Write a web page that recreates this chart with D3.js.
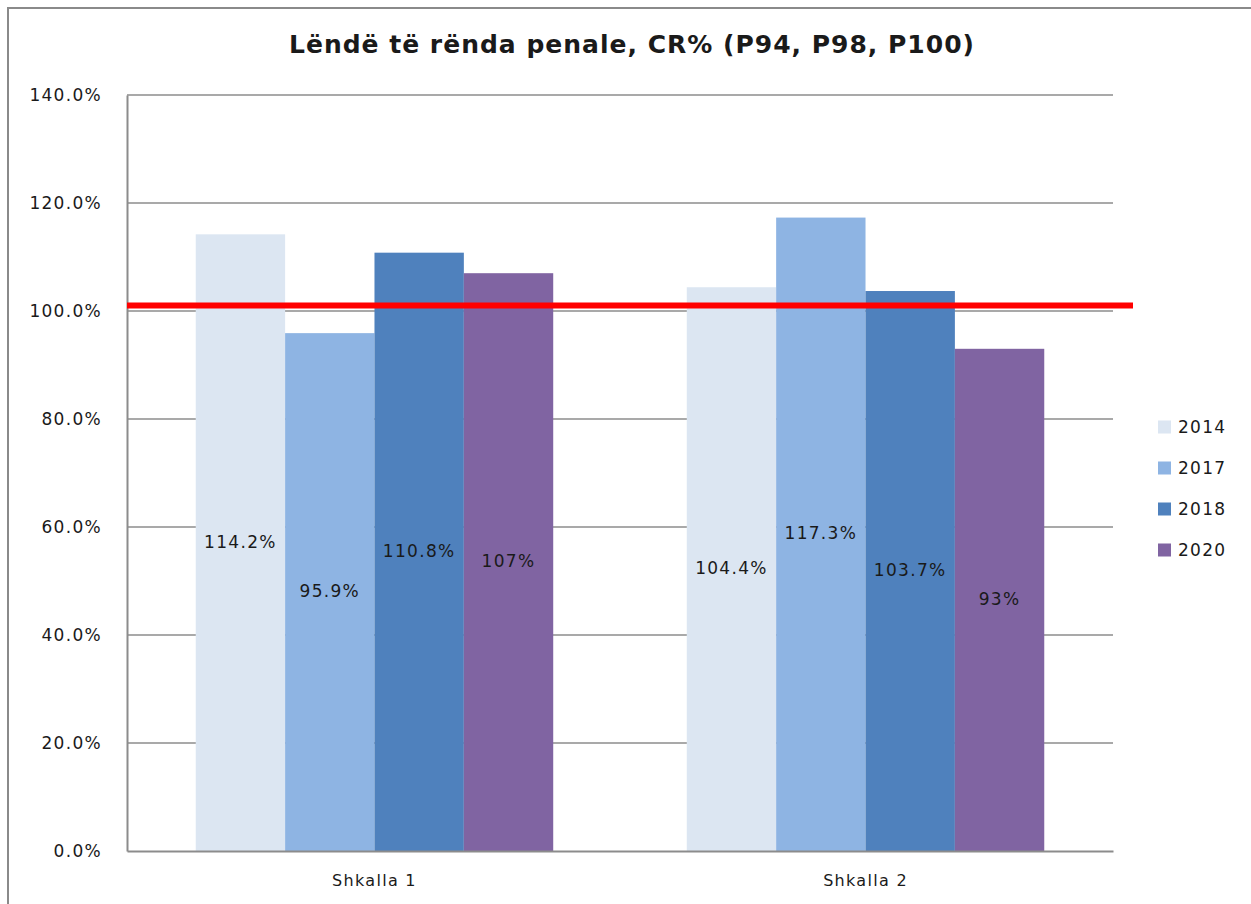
<!DOCTYPE html>
<html>
<head>
<meta charset="utf-8">
<script src="https://cdn.jsdelivr.net/npm/d3@7"></script>
<style>
  body { margin: 0; background: #fff; }
  text { font-family: "DejaVu Sans", sans-serif; fill: #1a1a1a; }
  .lbl { font-size: 17px; letter-spacing: 1.3px; }
</style>
</head>
<body>
<div class="chart"></div>
<script>
// Chart data
let categories = ["Shkalla 1", "Shkalla 2"];
let years = ["2014", "2017", "2018", "2020"];
let values2014 = [114.2, 104.4];
let values2017 = [95.9, 117.3];
let values2018 = [110.8, 103.7];
let values2020 = [107, 93];
let valueLabels = [["114.2%", "104.4%"], ["95.9%", "117.3%"], ["110.8%", "103.7%"], ["107%", "93%"]];
let yTicks = [0, 20, 40, 60, 80, 100, 120, 140];
let refValue = 101;
let title = "Lëndë të rënda penale, CR% (P94, P98, P100)";

let colors = ["#dce6f2", "#8eb4e3", "#4f81bd", "#8064a2"];
let seriesValues = [values2014, values2017, values2018, values2020];

let svgWidth = 1251;
let svgHeight = 904;
let margin = { top: 95, right: 138, bottom: 53, left: 127 };
let width = svgWidth - margin.left - margin.right;
let height = svgHeight - margin.top - margin.bottom;

let svg = d3.select(".chart")
  .append("svg")
  .attr("width", svgWidth)
  .attr("height", svgHeight);

// outer frame (right/bottom edges run off the picture)
svg.append("rect")
  .attr("x", 8).attr("y", 8)
  .attr("width", 1270).attr("height", 930)
  .attr("fill", "none")
  .attr("stroke", "#8a8a8a")
  .attr("stroke-width", 2);

svg.append("text")
  .attr("x", 632).attr("y", 46)
  .attr("text-anchor", "middle")
  .attr("dominant-baseline", "middle")
  .style("font-size", "25px")
  .style("font-weight", "bold")
  .style("letter-spacing", "1px")
  .text(title);

let chartGroup = svg.append("g")
  .attr("transform", `translate(${margin.left}, ${margin.top})`);

let x0 = d3.scaleBand()
  .domain(categories)
  .range([0, width])
  .paddingInner(0.272)
  .paddingOuter(0.14);

let x1 = d3.scaleBand()
  .domain(years)
  .range([0, x0.bandwidth()]);

let y = d3.scaleLinear()
  .domain([0, 140])
  .range([height, 0]);

// gridlines
chartGroup.append("g")
  .selectAll("line")
  .data(yTicks.filter(d => d > 0))
  .enter()
  .append("line")
  .attr("x1", 0)
  .attr("x2", width)
  .attr("y1", d => y(d))
  .attr("y2", d => y(d))
  .attr("stroke", "#8c8c8c")
  .attr("stroke-width", 1.5);

// y axis
let leftAxis = d3.axisLeft(y)
  .tickValues(yTicks)
  .tickSize(0)
  .tickPadding(25)
  .tickFormat(d => d.toFixed(1) + "%");

let yAxisG = chartGroup.append("g").call(leftAxis);
yAxisG.select(".domain").attr("stroke", "#8c8c8c").attr("stroke-width", 2);
yAxisG.selectAll("text").attr("class", "lbl").attr("fill", "#1a1a1a");

// bars
let groups = chartGroup.selectAll(".cat")
  .data(categories)
  .enter()
  .append("g")
  .attr("transform", d => `translate(${x0(d)}, 0)`);

groups.selectAll("rect")
  .data((c, ci) => years.map((yr, si) => ({ yr: yr, si: si, v: seriesValues[si][ci], label: valueLabels[si][ci] })))
  .enter()
  .append("rect")
  .attr("x", d => x1(d.yr))
  .attr("y", d => y(d.v))
  .attr("width", x1.bandwidth())
  .attr("height", d => height - y(d.v))
  .attr("fill", d => colors[d.si]);

// x axis
let bottomAxis = d3.axisBottom(x0).tickSize(0).tickPadding(24);
let xAxisG = chartGroup.append("g")
  .attr("transform", `translate(0, ${height})`)
  .call(bottomAxis);
xAxisG.select(".domain").attr("stroke", "#8c8c8c").attr("stroke-width", 2);
xAxisG.selectAll("text").attr("class", "lbl").style("font-size", "16px").attr("fill", "#1a1a1a");

// reference line
chartGroup.append("line")
  .attr("x1", 0)
  .attr("x2", width + 20)
  .attr("y1", y(refValue))
  .attr("y2", y(refValue))
  .attr("stroke", "#ff0000")
  .attr("stroke-width", 6);

// data labels in middle of bars
groups.selectAll(".val")
  .data((c, ci) => years.map((yr, si) => ({ yr: yr, si: si, v: seriesValues[si][ci], label: valueLabels[si][ci] })))
  .enter()
  .append("text")
  .attr("class", "lbl")
  .attr("x", d => x1(d.yr) + x1.bandwidth() / 2)
  .attr("y", d => y(d.v / 2))
  .attr("text-anchor", "middle")
  .attr("dominant-baseline", "middle")
  .text(d => d.label);

// legend
let legend = svg.append("g")
  .attr("transform", "translate(1158, 427)");

let items = legend.selectAll("g")
  .data(years)
  .enter()
  .append("g")
  .attr("transform", (d, i) => `translate(0, ${i * 41})`);

items.append("rect")
  .attr("x", 0).attr("y", -6.5)
  .attr("width", 13).attr("height", 13)
  .attr("fill", (d, i) => colors[i]);

items.append("text")
  .attr("class", "lbl")
  .attr("x", 20)
  .attr("y", 1)
  .attr("dominant-baseline", "middle")
  .text(d => d);
</script>
</body>
</html>
